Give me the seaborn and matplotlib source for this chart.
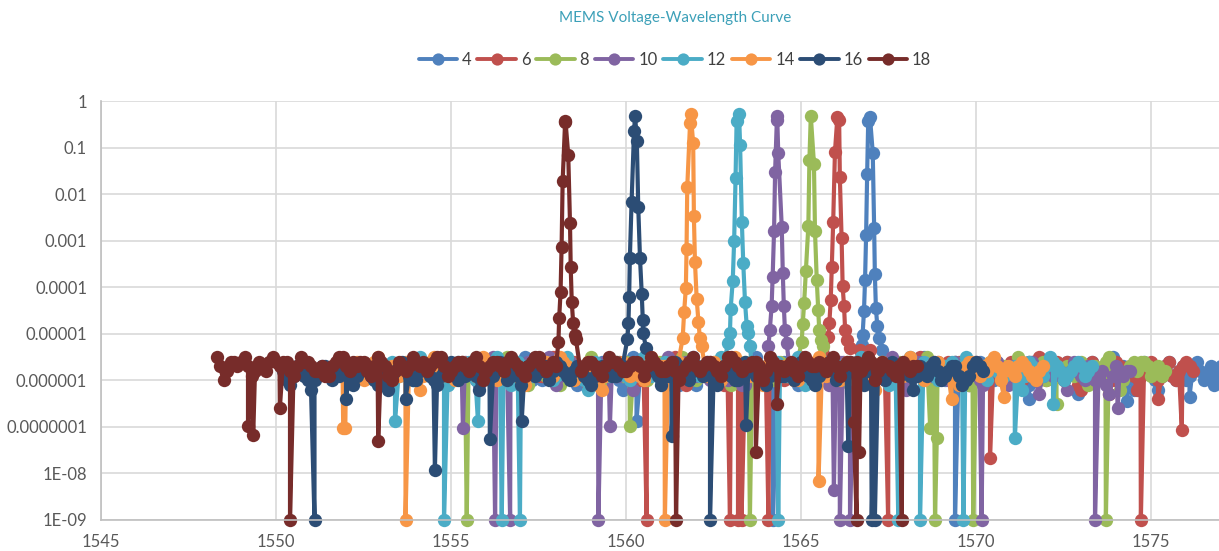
import matplotlib

matplotlib.use("Agg")
import matplotlib.pyplot as plt
import numpy as np
import pandas as pd
import seaborn as sns
from matplotlib.lines import Line2D

sns.set_theme(style="whitegrid")
plt.rcParams["font.family"] = ["Lato", "DejaVu Sans"]

# applied voltage of each sweep and Excel-style colours
VOLTAGES = [4, 6, 8, 10, 12, 14, 16, 18]
COLORS = ["#4F81BD", "#C0504D", "#9BBB59", "#8064A2", "#4BACC6", "#F79646", "#2C4D75", "#772C2A"]

# noise floor: sweep start (nm), 0.1 nm step, values as log10(power)
FLOOR_START = [1557.0, 1556.2, 1555.4, 1554.4, 1553.3, 1551.9, 1550.2, 1548.3]
FLOOR_STEP = 0.1

floor_4 = [-5.7, -5.5, -5.9, -6.0, -5.6, -5.8, -6.0, -5.7, -5.8, -5.6, -5.7, -5.9, -5.9, -5.6, -5.6, -5.8, -6.1, -5.9, -5.8, -5.6,
           -5.7, -5.9, -5.9, -5.6, -5.6, -5.9, -5.8, -5.7, -6.0, -6.2, -5.7, -5.8, -5.5, -5.7, -5.9, -5.6, -5.8, -5.7, -5.6, -5.9,
           -6.0, -5.8, -5.7, -5.6, -5.9, -6.1, -5.8, -5.7, -5.6, -5.5, -6.1, -5.9, -5.7, -5.6, -5.8, -6.0, -5.9, -5.7, -5.6, -5.8,
           -5.8, -5.6, -6.0, -5.9, -5.7, -5.8, -5.6, -5.5, -5.9, -6.0, -5.8, -5.7, -6.1, -5.9, -5.7, -5.6, -5.6, -5.8, -5.9, -6.1,
           -5.8, -5.6, -5.7, -5.9, -6.0, -5.7, -5.6, -5.5, -5.9, -6.0, -5.8, -5.7, -5.7, -5.9, -6.1, -5.8, -5.6, -5.7, -5.8, -6.0,
           -5.9, -5.7, -5.7, -5.6, -5.6, -5.9, -6.0, -5.8, -5.8, -5.6, -5.9, -6.1, -5.7, -5.8, -5.6, -5.5, -6.0, -5.9, -5.8, -5.7,
           -5.7, -6.0, -5.9, -5.7, -5.6, -5.8, -5.8, -6.0, -6.1, -5.8, -5.7, -5.6, -5.9, -5.7, -5.8, -6.0, -5.6, -5.9, -6.0, -5.7,
           -5.8, -5.6, -5.7, -5.9, -5.9, -6.1, -5.6, -5.8, -6.0, -5.7, -5.8, -5.6, -5.7, -5.9, -5.9, -6.0, -5.6, -5.8, -5.8, -6.3,
           -6.1, -5.8, -5.7, -5.6, -5.9, -6.0, -5.8, -5.7, -5.6, -5.5, -6.0, -5.9, -5.7, -5.8, -5.8, -6.2, -5.9, -5.7, -5.6, -5.8,
           -5.8, -6.0, -6.2, -5.9, -5.7, -5.6, -5.9, -6.0, -5.8, -5.7, -6.0, -5.9, -5.7, -5.6, -5.8, -6.0, -5.9, -5.7, -6.1, -5.9,
           -5.7]
floor_6 = [-5.8, -5.7, -5.6, -5.9, -5.9, -5.6, -5.7, -6.0, -6.0, -5.8, -5.8, -5.6, -5.6, -5.9, -5.9, -5.7, -5.7, -5.5, -5.5, -5.8,
           -6.0, -5.9, -5.8, -5.6, -5.7, -5.8, -5.9, -6.1, -5.6, -5.8, -6.1, -5.7, -5.7, -5.6, -5.8, -5.9, -5.6, -5.8, -5.9, -5.7,
           -5.7, -5.9, -6.0, -5.8, -5.8, -5.6, -5.6, -5.7, -5.9, -6.0, -5.7, -5.6, -5.5, -5.9, -5.8, -6.1, -6.0, -5.7, -5.7, -5.8,
           -5.9, -5.7, -5.6, -5.8, -5.8, -6.0, -6.1, -5.9, -5.7, -5.6, -5.6, -5.8, -5.9, -5.7, -5.8, -5.6, -5.7, -5.9, -6.0, -5.8,
           -5.6, -5.7, -5.8, -6.0, -5.9, -5.8, -5.7, -5.6, -5.5, -5.7, -6.0, -5.9, -5.8, -5.6, -5.6, -5.8, -5.9, -6.0, -5.7, -5.6,
           -5.8, -5.9, -6.1, -5.8, -5.6, -5.7, -5.9, -6.0, -5.7, -5.8, -5.8, -5.9, -6.0, -5.7, -5.6, -5.6, -5.7, -5.8, -5.9, -6.0,
           -5.8, -5.7, -5.5, -5.8, -6.0, -5.9, -5.7, -5.6, -5.9, -5.8, -5.6, -5.7, -5.8, -5.6, -5.7, -5.9, -6.1, -5.8, -5.6, -5.7,
           -5.9, -5.8, -5.7, -5.6, -5.8, -6.0, -6.0, -5.8, -5.6, -5.7, -5.9, -6.0, -5.7, -5.6, -5.8, -5.9, -5.5, -5.7, -6.0, -5.8,
           -5.7, -5.6, -5.9, -6.0, -5.6, -5.8, -5.8, -6.1, -6.2, -5.9, -5.7, -5.6, -5.9, -6.0, -5.8, -5.7, -6.3, -6.0, -5.6, -5.7,
           -5.9, -5.8, -5.7, -5.9, -6.2, -5.9, -5.8, -5.7, -5.6, -5.8, -6.0, -5.9, -5.7, -5.6, -5.9, -6.0, -5.8, -5.7, -5.6, -5.7,
           -5.8]
floor_8 = [-5.7, -5.8, -5.9, -5.7, -5.6, -5.7, -5.8, -6.0, -6.0, -5.8, -5.7, -5.6, -5.5, -5.7, -5.9, -6.0, -5.8, -5.7, -6.1, -5.8,
           -5.6, -5.7, -5.8, -5.9, -5.7, -5.8, -5.9, -6.1, -6.0, -5.7, -5.6, -5.8, -5.8, -5.9, -5.7, -5.6, -5.5, -5.7, -5.9, -6.0,
           -6.1, -5.9, -5.7, -5.6, -5.8, -5.9, -5.6, -5.8, -5.9, -5.7, -5.7, -5.9, -6.0, -5.8, -5.8, -5.6, -5.6, -5.7, -5.7, -5.8,
           -5.9, -5.7, -5.5, -5.6, -5.8, -5.9, -6.0, -5.8, -5.7, -5.8, -5.9, -5.6, -5.6, -5.7, -5.8, -6.0, -6.1, -5.9, -5.7, -5.8,
           -5.6, -5.7, -5.9, -6.0, -5.8, -5.9, -5.7, -5.8, -6.0, -5.7, -5.6, -5.9, -5.9, -5.8, -5.8, -5.6, -5.5, -5.7, -5.7, -5.9,
           -6.0, -5.8, -5.8, -5.7, -5.6, -5.8, -5.9, -5.7, -5.7, -5.9, -6.1, -5.8, -5.8, -5.6, -5.6, -5.9, -5.9, -5.8, -5.7, -5.6,
           -5.8, -5.9, -6.0, -5.8, -5.6, -5.7, -5.7, -5.9, -5.9, -5.7, -5.8, -5.6, -5.5, -5.8, -6.0, -5.9, -5.7, -5.8, -5.9, -5.7,
           -5.6, -5.9, -5.8, -5.7, -6.1, -5.9, -5.7, -5.8, -5.9, -5.7, -5.6, -5.7, -5.8, -5.9, -5.7, -5.8, -6.0, -5.7, -5.5, -5.6,
           -5.8, -5.7, -5.9, -6.0, -5.7, -5.6, -6.0, -5.8, -5.6, -5.7, -5.8, -5.9, -5.7, -5.8, -5.9, -5.8, -5.6, -5.9, -6.1, -5.8,
           -5.7, -5.8, -5.8, -5.6, -5.5, -5.7, -5.9, -6.2, -6.0, -5.8, -5.7, -5.6, -5.8, -5.6, -5.6, -5.7, -5.9, -5.8, -5.7, -5.9,
           -5.8]
floor_10 = [-5.8, -5.7, -5.6, -5.8, -6.0, -5.9, -5.7, -5.8, -5.9, -5.6, -5.6, -5.7, -5.8, -6.0, -6.1, -5.9, -5.7, -5.6, -5.5, -5.7,
            -5.9, -5.8, -5.7, -5.7, -5.8, -5.9, -6.0, -5.8, -5.6, -5.7, -5.9, -5.8, -5.7, -5.6, -5.5, -5.8, -6.1, -5.9, -5.8, -5.6,
            -5.6, -5.8, -5.9, -5.7, -5.7, -5.8, -5.8, -5.9, -6.0, -5.7, -5.6, -5.6, -5.7, -5.9, -5.9, -5.7, -5.8, -6.0, -6.2, -5.9,
            -5.6, -5.7, -5.8, -5.6, -5.7, -5.8, -5.9, -5.7, -5.5, -5.8, -6.0, -5.9, -5.8, -5.6, -5.6, -5.8, -5.9, -5.8, -5.7, -5.8,
            -6.0, -5.7, -5.6, -5.7, -5.8, -6.0, -5.7, -5.9, -5.9, -6.1, -6.1, -5.8, -5.6, -5.7, -5.8, -5.9, -5.7, -5.6, -5.9, -5.7,
            -5.5, -5.7, -5.8, -5.9, -6.0, -5.8, -5.7, -5.6, -5.6, -5.8, -5.9, -5.9, -5.8, -5.7, -6.1, -5.9, -5.7, -5.6, -5.6, -5.8,
            -5.9, -5.8, -5.8, -5.7, -5.6, -5.8, -6.0, -5.9, -5.7, -5.8, -5.9, -5.6, -5.5, -5.7, -5.8, -6.0, -6.2, -5.9, -5.7, -5.6,
            -5.6, -5.8, -5.9, -5.9, -5.8, -5.7, -5.7, -5.9, -6.0, -5.8, -5.6, -5.7, -5.8, -5.9, -5.9, -5.8, -5.7, -6.0, -6.1, -5.9,
            -5.8, -5.7, -5.6, -5.8, -5.9, -6.1, -5.7, -5.9, -6.0, -5.8, -5.8, -5.6, -5.6, -6.0, -6.3, -5.9, -5.7, -5.8, -5.9, -5.8,
            -5.8, -6.0, -6.2, -5.8, -5.6, -5.7, -5.9, -6.0, -5.7, -5.8, -6.0, -5.9, -5.8, -6.1, -6.3, -5.9, -5.7, -5.8, -5.9, -5.8,
            -5.8]
floor_12 = [-5.6, -5.8, -5.9, -5.8, -5.7, -5.9, -6.0, -5.7, -5.5, -5.7, -5.8, -5.9, -5.9, -5.7, -5.6, -5.9, -6.1, -5.9, -5.7, -5.6,
            -5.8, -5.7, -5.6, -5.8, -6.0, -5.8, -5.7, -5.8, -5.9, -5.7, -5.5, -5.7, -5.8, -6.0, -6.1, -5.8, -5.6, -5.7, -5.7, -5.8,
            -5.9, -5.8, -5.8, -5.7, -5.6, -5.8, -6.0, -5.9, -5.7, -5.6, -5.5, -5.7, -5.9, -5.9, -5.8, -6.0, -6.2, -5.9, -5.6, -5.7,
            -5.7, -5.8, -5.9, -5.7, -5.6, -5.7, -5.8, -5.9, -6.0, -5.8, -5.7, -5.6, -5.5, -5.7, -5.9, -5.8, -5.8, -5.7, -5.6, -5.8,
            -6.1, -5.9, -5.7, -5.8, -5.8, -5.7, -5.6, -5.8, -5.9, -5.7, -5.7, -5.8, -6.0, -5.7, -5.5, -5.6, -5.8, -5.7, -5.7, -5.8,
            -5.9, -5.7, -5.6, -5.7, -5.8, -5.9, -6.0, -5.8, -5.7, -5.6, -5.6, -5.7, -5.9, -5.9, -5.8, -5.6, -5.5, -5.8, -6.1, -5.9,
            -5.7, -5.8, -5.8, -5.7, -5.6, -5.7, -5.9, -5.8, -5.7, -5.9, -6.0, -5.9, -5.8, -5.6, -5.5, -5.6, -5.7, -5.8, -5.9, -5.8,
            -5.6, -5.9, -6.1, -5.9, -5.8, -5.7, -5.7, -5.6, -5.5, -5.7, -5.9, -5.7, -5.6, -5.7, -5.8, -5.9, -6.0, -5.8, -5.7, -5.8,
            -5.6, -5.8, -5.9, -5.7, -5.5, -5.6, -5.8, -5.7, -5.7, -5.9, -6.0, -5.7, -5.6, -5.8, -5.9, -5.9, -5.8, -5.8, -5.7, -5.9,
            -6.2, -5.9, -5.6, -5.7, -5.8, -5.9, -5.9, -5.7, -5.5, -5.6, -5.7, -5.8, -6.0, -5.9, -5.8, -5.7, -5.6, -5.7, -5.9, -5.8,
            -5.7]
floor_14 = [-5.7, -5.8, -5.9, -5.7, -5.6, -5.8, -6.0, -5.9, -5.8, -5.6, -5.5, -5.8, -6.1, -5.9, -5.7, -5.8, -5.9, -5.7, -5.6, -5.7,
            -5.8, -6.0, -6.2, -5.9, -5.7, -5.6, -5.5, -5.7, -5.9, -5.8, -5.8, -5.9, -6.0, -5.8, -5.6, -5.7, -5.7, -5.8, -5.9, -5.7,
            -5.5, -5.7, -5.8, -5.9, -6.0, -5.8, -5.7, -5.6, -5.6, -5.8, -5.9, -6.0, -6.1, -5.9, -5.7, -5.8, -5.8, -5.7, -5.6, -5.8,
            -5.9, -5.7, -5.5, -5.6, -5.7, -5.9, -6.0, -5.9, -5.8, -5.7, -5.6, -5.8, -5.9, -6.1, -6.2, -5.9, -5.7, -5.8, -5.8, -5.7,
            -5.6, -5.8, -5.9, -5.8, -5.7, -5.9, -6.0, -5.7, -5.5, -5.6, -5.8, -5.7, -5.7, -5.8, -5.9, -5.7, -5.6, -5.9, -6.1, -5.9,
            -5.8, -5.7, -5.7, -5.8, -5.9, -5.7, -5.6, -5.8, -6.0, -5.9, -5.8, -5.6, -5.5, -5.6, -5.7, -5.8, -5.9, -5.8, -5.8, -5.7,
            -6.1, -5.8, -5.6, -5.7, -5.8, -5.7, -5.7, -5.8, -5.9, -6.0, -6.0, -5.8, -5.6, -5.7, -5.8, -5.6, -5.5, -5.7, -5.9, -5.7,
            -5.7, -5.9, -6.0, -5.8, -5.6, -5.7, -5.8, -5.9, -5.9, -5.8, -5.7, -6.0, -6.2, -5.9, -5.6, -5.7, -5.8, -5.7, -5.7, -5.8,
            -5.9, -5.7, -5.5, -5.7, -5.8, -5.9, -6.0, -5.8, -5.7, -5.6, -5.6, -5.8, -5.9, -5.8, -5.8, -6.0, -6.1, -5.9, -5.7, -5.6,
            -5.6, -5.8, -5.9, -5.7, -5.8, -5.6, -5.5, -5.7, -6.0, -5.8, -5.7, -5.8, -5.9, -5.7, -5.6, -5.7, -5.8, -5.9, -6.0, -5.8,
            -5.7]
floor_16 = [-5.8, -6.0, -6.1, -5.9, -5.7, -5.8, -5.9, -6.0, -6.2, -6.0, -5.8, -5.7, -5.7, -5.9, -6.0, -5.9, -5.9, -5.7, -5.6, -5.8,
            -6.1, -5.9, -5.8, -5.7, -5.7, -5.9, -6.0, -6.1, -5.9, -6.0, -6.2, -5.9, -5.8, -5.7, -5.6, -5.7, -5.9, -6.0, -6.0, -5.8,
            -5.7, -5.8, -5.9, -6.0, -6.1, -5.9, -5.8, -5.7, -5.6, -5.8, -6.0, -5.9, -5.9, -5.8, -5.7, -5.9, -6.2, -6.0, -5.8, -5.9,
            -5.9, -5.7, -5.6, -5.8, -6.0, -5.9, -5.8, -5.9, -6.1, -5.8, -5.7, -5.8, -5.9, -5.8, -5.8, -5.7, -6.0, -5.8, -5.6, -5.7,
            -5.8, -5.9, -6.0, -5.8, -5.7, -5.8, -5.9, -6.0, -6.1, -5.9, -5.8, -5.7, -5.7, -5.8, -5.9, -5.9, -5.8, -5.7, -5.7, -5.8,
            -5.9, -6.0, -6.0, -5.8, -5.7, -5.7, -5.8, -5.9, -6.1, -5.9, -5.9, -5.7, -5.6, -5.7, -5.8, -5.9, -6.0, -5.8, -5.7, -5.8,
            -5.9, -5.8, -5.8, -6.0, -6.1, -5.8, -5.7, -5.8, -5.9, -6.0, -6.0, -5.8, -5.6, -5.7, -5.8, -5.9, -5.9, -6.0, -6.1, -5.9,
            -5.7, -5.8, -5.9, -5.9, -5.8, -5.9, -6.0, -5.8, -5.6, -5.8, -5.9, -6.0, -6.1, -5.9, -5.8, -5.8, -5.7, -5.8, -6.0, -5.9,
            -5.8, -5.7, -5.6, -5.8, -5.9, -6.0, -6.1, -5.8, -5.7, -5.7, -5.8, -5.9, -6.0, -5.8, -5.6, -5.7, -5.9, -5.8, -5.8, -5.9,
            -6.2, -5.9, -5.7, -5.8, -5.9, -5.7, -5.6, -5.8, -6.0, -5.9, -5.8, -5.7, -5.7, -5.9, -6.1, -6.0, -5.9, -5.7, -5.6, -5.7,
            -5.8]
floor_18 = [-5.5, -5.7, -6.0, -5.8, -5.6, -5.6, -5.7, -5.6, -5.5, -5.7, -5.9, -5.8, -5.6, -5.7, -5.8, -5.6, -5.5, -5.6, -5.7, -5.6,
            -5.6, -5.8, -5.9, -5.7, -5.5, -5.6, -5.6, -5.7, -5.8, -5.8, -5.7, -5.9, -5.9, -5.7, -5.6, -5.5, -5.5, -5.7, -5.8, -5.6,
            -5.7, -5.6, -5.6, -5.8, -5.9, -5.7, -5.5, -5.6, -5.7, -5.9, -6.0, -5.8, -5.6, -5.7, -5.8, -5.7, -5.5, -5.6, -5.7, -5.6,
            -5.8, -5.7, -5.6, -5.5, -5.5, -5.7, -5.9, -5.8, -5.7, -5.6, -5.6, -5.7, -5.8, -5.6, -5.5, -5.7, -6.0, -5.8, -5.7, -5.6,
            -5.6, -5.7, -5.8, -5.6, -5.5, -5.6, -5.7, -5.8, -5.9, -5.7, -5.6, -5.5, -5.5, -5.7, -5.8, -5.7, -5.6, -5.7, -5.7, -5.6,
            -5.5, -5.6, -5.6, -5.7, -5.8, -5.7, -5.6, -5.6, -5.7, -5.8, -5.9, -5.7, -5.5, -5.6, -5.6, -5.7, -5.8, -5.8, -5.7, -5.6,
            -5.6, -5.7, -5.9, -5.7, -5.5, -5.6, -5.7, -5.8, -5.8, -5.7, -5.6, -5.8, -6.0, -5.8, -5.7, -5.6, -5.5, -5.7, -5.8, -5.7,
            -5.6, -5.6, -5.7, -5.8, -5.9, -5.7, -5.5, -5.5, -5.6, -5.7, -5.8, -5.7, -5.7, -5.6, -5.6, -5.7, -6.0, -5.8, -5.5, -5.6,
            -5.7, -5.7, -5.8, -5.7, -5.6, -5.8, -5.9, -5.7, -5.5, -5.6, -5.7, -5.7, -5.6, -5.7, -5.8, -5.6, -5.5, -5.7, -5.9, -5.7,
            -5.6, -5.6, -5.7, -5.6, -5.8, -5.7, -5.5, -5.6, -6.0, -5.8, -5.6, -5.7, -5.7, -5.8, -5.9, -5.7, -5.6, -5.7, -5.8, -5.7,
            -5.7]

# transmission peaks (wavelength nm, log10 power)
peak_x_4 = [1566.73, 1566.76, 1566.80, 1566.83, 1566.86, 1566.89, 1566.92, 1566.97,
            1567.05, 1567.09, 1567.11, 1567.14, 1567.18, 1567.24, 1567.31]
peak_y_4 = [-5.24, -5.02, -4.50, -3.84, -2.88, -1.57, -0.44, -0.34,
            -1.11, -2.73, -3.71, -4.45, -4.83, -5.09, -5.34]
peak_x_6 = [1565.78, 1565.81, 1565.85, 1565.88, 1565.92, 1565.97, 1566.04, 1566.09,
            1566.11, 1566.16, 1566.19, 1566.23, 1566.26, 1566.31, 1566.40, 1566.69, 1566.97]
peak_y_6 = [-5.07, -4.77, -4.27, -3.56, -2.59, -1.09, -0.34, -0.41,
            -1.64, -2.95, -3.98, -4.41, -4.91, -5.13, -5.31, -5.34, -5.34]
peak_x_8 = [1565.02, 1565.05, 1565.09, 1565.14, 1565.21, 1565.24, 1565.28,
            1565.37, 1565.40, 1565.45, 1565.49, 1565.52, 1565.56, 1565.62]
peak_y_8 = [-5.17, -4.79, -4.33, -3.66, -2.68, -1.27, -0.32,
            -1.35, -2.80, -3.84, -4.48, -4.91, -5.13, -5.27]
peak_x_10 = [1564.07, 1564.11, 1564.16, 1564.19, 1564.23, 1564.26, 1564.31, 1564.32,
             1564.35, 1564.45, 1564.48, 1564.51, 1564.54, 1564.59]
peak_y_10 = [-5.27, -4.91, -4.41, -3.77, -2.80, -1.52, -0.41, -0.32,
             -1.12, -2.70, -3.70, -4.41, -4.91, -5.20]
peak_x_12 = [1562.92, 1562.97, 1562.99, 1563.05, 1563.09, 1563.13, 1563.16, 1563.23,
             1563.26, 1563.31, 1563.35, 1563.40, 1563.45, 1563.49, 1563.54]
peak_y_12 = [-5.20, -4.99, -4.47, -3.86, -3.00, -1.66, -0.44, -0.28,
             -0.94, -2.59, -3.48, -4.31, -4.84, -4.99, -5.27]
peak_x_14 = [1561.62, 1561.66, 1561.71, 1561.73, 1561.75, 1561.83, 1561.85,
             1561.92, 1561.94, 1561.97, 1562.02, 1562.07, 1562.11, 1562.16]
peak_y_14 = [-5.09, -4.54, -4.02, -3.18, -1.85, -0.48, -0.28,
             -0.91, -2.48, -3.45, -4.26, -4.74, -5.09, -5.27]
peak_x_16 = [1560.04, 1560.07, 1560.09, 1560.11, 1560.16, 1560.23, 1560.26,
             1560.31, 1560.35, 1560.40, 1560.45, 1560.48, 1560.49, 1560.57]
peak_y_16 = [-5.11, -4.76, -4.20, -3.38, -2.16, -0.64, -0.32,
             -0.85, -2.28, -3.38, -4.14, -4.71, -4.98, -5.30]
peak_x_18 = [1558.07, 1558.09, 1558.13, 1558.16, 1558.19, 1558.26, 1558.27,
             1558.35, 1558.40, 1558.42, 1558.45, 1558.49, 1558.53, 1558.57]
peak_y_18 = [-5.17, -4.67, -4.11, -3.13, -1.72, -0.45, -0.42,
             -1.16, -2.62, -3.56, -4.31, -4.76, -5.02, -5.12]

# dips and drop-outs below the floor (wavelength nm, log10 power)
dip_x_4 = [1560.30, 1564.20, 1569.40, 1571.50, 1574.30, 1576.10]
dip_y_4 = [-6.88, -9.0, -9.0, -6.40, -6.45, -6.35]
dip_x_6 = [1560.59, 1562.97, 1563.20, 1563.30, 1564.07, 1567.49, 1570.40, 1574.71, 1575.20, 1575.88]
dip_y_6 = [-9.0, -9.0, -9.0, -9.0, -9.0, -9.0, -7.67, -9.0, -6.40, -7.06]
dip_x_8 = [1555.45, 1560.11, 1563.54, 1568.69, 1568.83, 1568.88, 1569.92, 1572.30, 1573.71]
dip_y_8 = [-9.0, -6.99, -9.0, -7.02, -9.0, -7.24, -9.0, -6.50, -9.0]
dip_x_10 = [1555.34, 1556.26, 1556.69, 1559.21, 1559.54, 1565.94, 1566.11, 1566.40, 1570.16, 1573.40, 1574.05]
dip_y_10 = [-7.02, -9.0, -9.0, -9.0, -6.99, -8.35, -9.0, -9.0, -9.0, -9.0, -6.60]
dip_x_12 = [1553.40, 1554.80, 1555.77, 1556.45, 1556.97, 1564.35, 1567.78, 1568.40, 1569.64, 1571.11, 1572.20]
dip_y_12 = [-6.88, -9.0, -6.88, -9.0, -9.0, -9.0, -9.0, -9.0, -9.0, -7.24, -6.50]
dip_x_14 = [1551.92, 1551.98, 1553.70, 1561.11, 1565.50, 1569.30, 1570.80]
dip_y_14 = [-7.02, -7.02, -9.0, -9.0, -8.17, -6.40, -6.35]
dip_x_16 = [1551.10, 1552.00, 1553.70, 1554.54, 1556.11, 1557.02, 1561.30, 1562.40, 1563.43,
            1566.35, 1567.02, 1567.11]
dip_y_16 = [-9.0, -6.40, -6.40, -7.92, -7.27, -6.88, -7.19, -9.0, -6.97, -7.42, -9.0, -9.0]
dip_x_18 = [1549.20, 1549.35, 1550.11, 1550.40, 1552.92, 1561.43, 1563.71, 1564.30,
            1566.50, 1566.59, 1566.66, 1567.88]
dip_y_18 = [-6.99, -7.17, -6.60, -9.0, -7.31, -9.0, -7.53, -6.50, -6.90, -9.0, -7.53, -9.0]

Y_TICKS = [1e-9, 1e-8, 1e-7, 1e-6, 1e-5, 1e-4, 1e-3, 1e-2, 1e-1, 1]
Y_TICK_LABELS = ["1E-09", "1E-08", "0.0000001", "0.000001", "0.00001",
                 "0.0001", "0.001", "0.01", "0.1", "1"]
X_TICKS = [1545, 1550, 1555, 1560, 1565, 1570, 1575]

FLOORS = [floor_4, floor_6, floor_8, floor_10, floor_12, floor_14, floor_16, floor_18]
PEAKS = [(peak_x_4, peak_y_4), (peak_x_6, peak_y_6), (peak_x_8, peak_y_8), (peak_x_10, peak_y_10),
         (peak_x_12, peak_y_12), (peak_x_14, peak_y_14), (peak_x_16, peak_y_16), (peak_x_18, peak_y_18)]
DIPS = [(dip_x_4, dip_y_4), (dip_x_6, dip_y_6), (dip_x_8, dip_y_8), (dip_x_10, dip_y_10),
        (dip_x_12, dip_y_12), (dip_x_14, dip_y_14), (dip_x_16, dip_y_16), (dip_x_18, dip_y_18)]

MARKER_SIZE = 9.6
LINE_WIDTH = 3.0


def build_series(i):
    floor = np.array(FLOORS[i])
    fx = FLOOR_START[i] + FLOOR_STEP * np.arange(len(floor))
    px, py = PEAKS[i]
    keep = (fx < min(px) - 0.05) | (fx > max(px) + 0.05)
    dx, dy = DIPS[i]
    x = np.concatenate([fx[keep], px, dx])
    y = np.concatenate([floor[keep], py, dy])
    df = pd.DataFrame({"wavelength": x, "power": 10.0 ** y})
    return df.sort_values("wavelength", kind="stable")


fig = plt.figure(figsize=(12.19, 5.51), dpi=100)
ax = fig.add_axes([101 / 1219, 31 / 551, 1118 / 1219, 419 / 551])

for i, v in enumerate(VOLTAGES):
    sns.lineplot(data=build_series(i), x="wavelength", y="power", ax=ax,
                 color=COLORS[i], marker="o", markersize=MARKER_SIZE, markeredgewidth=0,
                 linewidth=LINE_WIDTH, estimator=None, sort=False, clip_on=False)

ax.set_yscale("log")
ax.set_ylim(1e-9, 1)
ax.set_xlim(1545, 1545 + 1118 / 35)
ax.set_yticks(Y_TICKS)
ax.set_yticklabels(Y_TICK_LABELS)
ax.minorticks_off()
ax.set_xticks(X_TICKS)
ax.set_xticklabels([str(t) for t in X_TICKS])
ax.set_xlabel("")
ax.set_ylabel("")
ax.grid(True, color="#d9d9d9", linewidth=1.2)
ax.set_axisbelow(True)
ax.tick_params(axis="both", length=0, labelsize=12, labelcolor="#595959")
ax.tick_params(axis="y", pad=10)
ax.tick_params(axis="x", pad=10)
for side in ["top", "right"]:
    ax.spines[side].set_visible(False)
for side in ["left", "bottom"]:
    ax.spines[side].set_color("#bfbfbf")
    ax.spines[side].set_linewidth(1.2)

fig.text(675 / 1219, 1 - 18 / 551, "MEMS Voltage-Wavelength Curve", ha="center", va="center",
         fontsize=11, color="#3CA0B8")

handles = [Line2D([], [], color=c, marker="o", markersize=8.8, markeredgewidth=0, linewidth=2.8)
           for c in COLORS]
fig.legend(handles, [str(v) for v in VOLTAGES], loc="center", bbox_to_anchor=(675 / 1219, 1 - 60 / 551),
           ncol=8, frameon=False, handlelength=2.3, handletextpad=0.3, columnspacing=0.35,
           fontsize=12, labelcolor="#404040")

fig.savefig("out.png", dpi=100)
